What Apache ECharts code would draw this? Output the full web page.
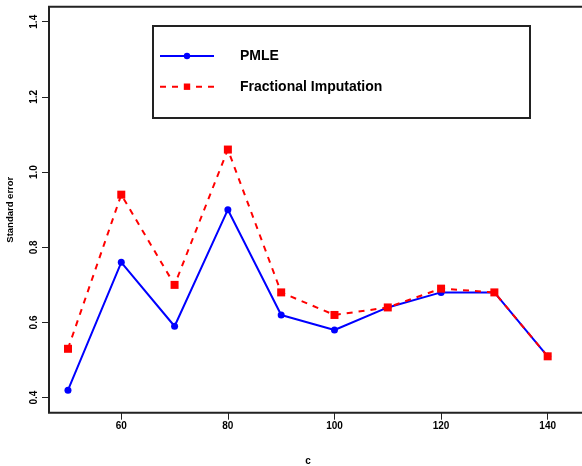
<!DOCTYPE html>
<html>
<head>
<meta charset="utf-8">
<script src="https://cdn.jsdelivr.net/npm/echarts@6/dist/echarts.min.js"></script>
<style>
  html, body { margin: 0; padding: 0; background: #ffffff; }
  #chart { width: 582px; height: 466px; }
</style>
</head>
<body>
<div id="chart"></div>
<script>
// Truncation point c and the standard error of each estimator
const cValues = [50, 60, 70, 80, 90, 100, 110, 120, 130, 140];
const pmle = [0.42, 0.76, 0.59, 0.90, 0.62, 0.58, 0.64, 0.68, 0.68, 0.51];
const fracImp = [0.53, 0.94, 0.70, 1.06, 0.68, 0.62, 0.64, 0.69, 0.68, 0.51];

const xTicks = [60, 80, 100, 120, 140];
const yTicks = [0.4, 0.6, 0.8, 1.0, 1.2, 1.4];

const FONT = '"Liberation Sans", Arial, Helvetica, sans-serif';
const INK = '#222222';

const chart = echarts.init(document.getElementById('chart'), null, { renderer: 'canvas' });

const pairs = (ys) => cValues.map((c, i) => [c, ys[i]]);

chart.setOption({
  backgroundColor: '#ffffff',
  animation: false,
  grid: {
    left: 49, top: 6.7, width: 545, height: 406,
    outerBoundsMode: 'none', containLabel: false,
    show: true, borderColor: INK, borderWidth: 2, backgroundColor: 'transparent'
  },
  xAxis: {
    type: 'value',
    min: 46.44, max: 46.44 + 545 / 5.33,
    splitLine: { show: false },
    axisLine: { show: false },
    axisTick: { show: true, customValues: xTicks, length: 7, lineStyle: { color: INK, width: 1 } },
    axisLabel: {
      customValues: xTicks, margin: 9,
      fontFamily: FONT, fontWeight: 'bold', fontSize: 10, color: '#000'
    },
    name: 'c', nameLocation: 'middle', nameGap: 44,
    nameTextStyle: { fontFamily: FONT, fontWeight: 'bold', fontSize: 10, color: '#000', padding: [0, 27, 0, 0] }
  },
  yAxis: {
    type: 'value',
    min: 0.36, max: 1.44,
    splitLine: { show: false },
    axisLine: { show: false },
    axisTick: { show: true, customValues: yTicks, length: 7, lineStyle: { color: INK, width: 1 } },
    axisLabel: {
      customValues: yTicks, rotate: 90, margin: 10,
      formatter: (v) => v.toFixed(1),
      fontFamily: FONT, fontWeight: 'bold', fontSize: 10, color: '#000'
    },
    name: 'Standard error', nameLocation: 'middle', nameGap: 34,
    nameTextStyle: { fontFamily: FONT, fontWeight: 'bold', fontSize: 9.5, color: '#000' }
  },
  legend: {
    orient: 'vertical',
    left: 159, top: 49,
    itemWidth: 54, itemHeight: 8, itemGap: 16.7,
    padding: 0,
    textStyle: { fontFamily: FONT, fontWeight: 'bold', fontSize: 14, color: '#000', padding: [0, 0, 0, 21] },
    data: ['PMLE', 'Fractional Imputation']
  },
  graphic: [{
    type: 'rect', left: 152, top: 25, z: 10, silent: true,
    shape: { width: 377, height: 92 },
    style: { fill: 'transparent', stroke: INK, lineWidth: 2 }
  }],
  series: [
    {
      name: 'PMLE', type: 'line', data: pairs(pmle),
      color: '#0000ff',
      symbol: 'circle', symbolSize: 7,
      lineStyle: { color: '#0000ff', width: 2 },
      itemStyle: { color: '#0000ff' }
    },
    {
      name: 'Fractional Imputation', type: 'line', data: pairs(fracImp),
      color: '#ff0000',
      symbol: 'rect', symbolSize: 8,
      lineStyle: { color: '#ff0000', width: 2, type: [6, 6] },
      itemStyle: { color: '#ff0000' }
    }
  ]
});
</script>
</body>
</html>
